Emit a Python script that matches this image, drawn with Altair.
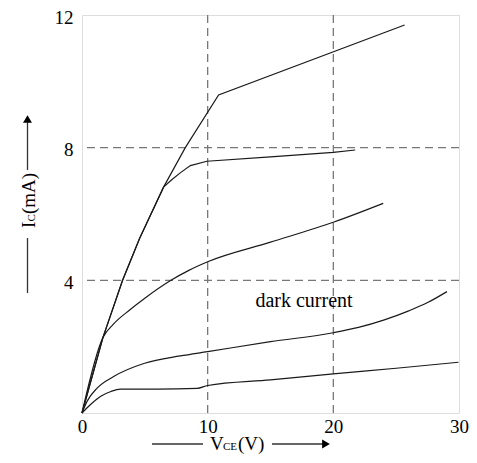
import altair as alt
import pandas as pd

# ---- data ----
c1_x = [0, 1.67, 3.23, 4.58, 6.49, 8.22, 10.87, 25.67]
c1_y = [0, 2.28, 4.0, 5.26, 6.81, 8.0, 9.59, 11.70]

c2_x = [0, 1.67, 3.23, 4.58, 6.49, 7.16, 7.82, 8.62, 9.94, 15, 20, 21.74]
c2_y = [0, 2.28, 4.0, 5.26, 6.81, 7.04, 7.24, 7.46, 7.59, 7.72, 7.86, 7.93]

c3_x = [0, 1.67, 2.5, 3.84, 5.0, 7.08, 8.5, 10, 15, 20, 23.97]
c3_y = [0, 2.28, 2.68, 3.12, 3.46, 4.0, 4.3, 4.56, 5.15, 5.75, 6.32]

c4_x = [0, 0.4, 1.2, 2.52, 4.98, 7.82, 10, 15, 20, 22, 24, 26, 27.5, 29.04]
c4_y = [0, 0.35, 0.75, 1.1, 1.5, 1.72, 1.85, 2.15, 2.42, 2.58, 2.8, 3.08, 3.33, 3.66]

c5_x = [0, 0.66, 1.46, 2.3, 3.05, 6, 9.15, 10, 15, 20, 25, 29.96]
c5_y = [0, 0.25, 0.5, 0.65, 0.72, 0.72, 0.74, 0.83, 1.0, 1.18, 1.35, 1.53]

x_ticks = [0, 10, 20, 30]
y_ticks = [4, 8, 12]
x_grid = [10, 20]
y_grid = [4, 8]

note_text = ["dark current"]
note_x = [13.8]
note_y = [3.19]

FONT = "Liberation Serif"
CURVE = "#1a1a1a"
GRID = "#777777"


def series(name, xs, ys):
    return pd.DataFrame({"v": xs, "i": ys, "s": name, "o": range(len(xs))})


lin_df = pd.concat([series("c1", c1_x, c1_y), series("c2", c2_x, c2_y)])
mono_df = pd.concat([series("c3", c3_x, c3_y), series("c4", c4_x, c4_y),
                     series("c5", c5_x, c5_y)])

xs = alt.Scale(domain=[0, 30], nice=False, zero=False)
ys = alt.Scale(domain=[0, 12], nice=False, zero=False)

x_enc = alt.X("v:Q", scale=xs, axis=alt.Axis(values=x_ticks, title=None, domain=False, ticks=False,
                                              grid=False, labelFont=FONT, labelFontSize=19,
                                              labelColor="black", labelPadding=4,
                                              labelFlush=False))
y_enc = alt.Y("i:Q", scale=ys, axis=alt.Axis(values=y_ticks, title=None, domain=False, ticks=False,
                                              grid=False, labelFont=FONT, labelFontSize=19,
                                              labelColor="black", labelPadding=9,
                                              labelOffset=2, labelFlush=False))

lin = alt.Chart(lin_df).mark_line(color=CURVE, strokeWidth=1.2, interpolate="linear").encode(
    x=x_enc, y=y_enc, detail="s:N", order="o:Q")
mono = alt.Chart(mono_df).mark_line(color=CURVE, strokeWidth=1.2, interpolate="monotone").encode(
    x=alt.X("v:Q", scale=xs), y=alt.Y("i:Q", scale=ys), detail="s:N", order="o:Q")

vgrid = alt.Chart(pd.DataFrame({"g": x_grid})).mark_rule(
    color=GRID, strokeWidth=1.3, strokeDash=[8, 5]).encode(x=alt.X("g:Q", scale=xs))
hgrid = alt.Chart(pd.DataFrame({"g": y_grid})).mark_rule(
    color=GRID, strokeWidth=1.3, strokeDash=[8, 5]).encode(y=alt.Y("g:Q", scale=ys))

note = alt.Chart(pd.DataFrame({"t": note_text, "x": note_x, "y": note_y})).mark_text(
    font=FONT, fontSize=20, align="left", baseline="alphabetic", color="black").encode(
    x=alt.X("x:Q", scale=xs), y=alt.Y("y:Q", scale=ys), text="t:N")

# ---- axis titles drawn with arrows ----
one = pd.DataFrame({"k": [0]})
LINE = "#333333"
XT_Y = 429      # y of the x-title arrow line (plot coords)
XT_B = 435      # baseline of the x-title text

xl1 = alt.Chart(one).mark_rule(color=LINE, strokeWidth=1.3).encode(
    x=alt.value(70), x2=alt.value(121), y=alt.value(XT_Y))
xl2 = alt.Chart(one).mark_rule(color=LINE, strokeWidth=1.3).encode(
    x=alt.value(190), x2=alt.value(242), y=alt.value(XT_Y))
xarr = alt.Chart(one).mark_point(shape="triangle-right", filled=True, color="black",
                                  size=80, opacity=1).encode(x=alt.value(244), y=alt.value(XT_Y))
xt_v = alt.Chart(one).mark_text(text="V", font=FONT, fontSize=19, align="left",
                                 baseline="alphabetic", color="black").encode(
    x=alt.value(128), y=alt.value(XT_B))
xt_ce = alt.Chart(one).mark_text(text="CE", font=FONT, fontSize=11, align="left",
                                  baseline="alphabetic", color="black").encode(
    x=alt.value(141), y=alt.value(XT_B))
xt_u = alt.Chart(one).mark_text(text="(V)", font=FONT, fontSize=19, align="left",
                                 baseline="alphabetic", color="black").encode(
    x=alt.value(156), y=alt.value(XT_B))

yl1 = alt.Chart(one).mark_rule(color=LINE, strokeWidth=1.3).encode(
    x=alt.value(-54.5), y=alt.value(223), y2=alt.value(278))
yl2 = alt.Chart(one).mark_rule(color=LINE, strokeWidth=1.3).encode(
    x=alt.value(-54.5), y=alt.value(105), y2=alt.value(155))
yarr = alt.Chart(one).mark_point(shape="triangle-up", filled=True, color="black",
                                  size=80, opacity=1).encode(x=alt.value(-54.5), y=alt.value(104))
yt_i = alt.Chart(one).mark_text(text="I", font=FONT, fontSize=19, align="left", angle=270,
                                 baseline="alphabetic", color="black").encode(
    x=alt.value(-47), y=alt.value(213))
yt_c = alt.Chart(one).mark_text(text="C", font=FONT, fontSize=11, align="left", angle=270,
                                 baseline="alphabetic", color="black").encode(
    x=alt.value(-47), y=alt.value(206.5))
yt_u = alt.Chart(one).mark_text(text="(mA)", font=FONT, fontSize=19, align="left", angle=270,
                                 baseline="alphabetic", color="black").encode(
    x=alt.value(-47), y=alt.value(199))

chart = alt.layer(
    vgrid, hgrid, lin, mono, note,
    xl1, xl2, xarr, xt_v, xt_ce, xt_u,
    yl1, yl2, yarr, yt_i, yt_c, yt_u,
).properties(
    width=377, height=398,
    autosize=alt.AutoSizeParams(type="none"),
    padding={"left": 74, "top": 7, "right": 10, "bottom": 42},
).configure_view(stroke="#666666", strokeWidth=1.5).configure(background="white")

chart.save("out.html", embed_options={"renderer": "svg", "actions": False})
